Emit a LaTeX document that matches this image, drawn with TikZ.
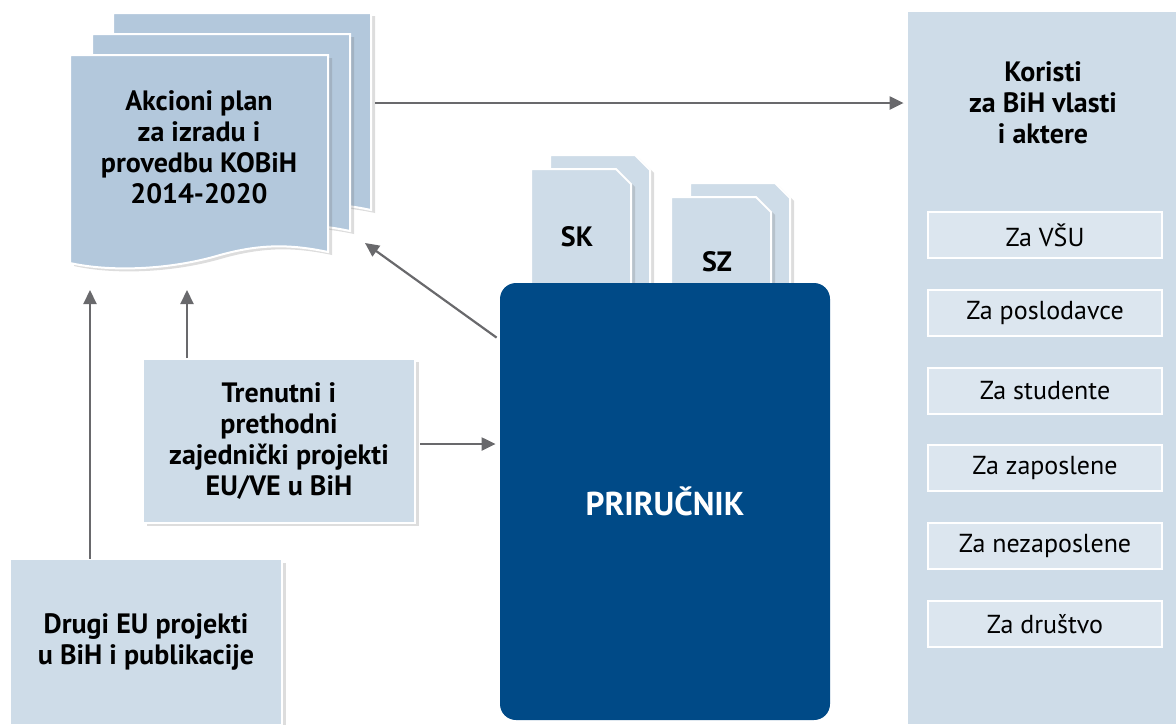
\documentclass[tikz,border=0pt]{standalone}
\usepackage{fontspec}
\setmainfont{PT Sans}
\usetikzlibrary{shapes,arrows.meta,positioning,calc,shadows}
\definecolor{pagefill}{RGB}{179,200,220}
\definecolor{boxfill}{RGB}{206,220,232}
\definecolor{itemfill}{RGB}{220,230,239}
\definecolor{handbook}{RGB}{0,74,135}
\definecolor{arrowgray}{RGB}{105,105,108}

\tikzset{
  flow/.style={draw=arrowgray, line width=1.1pt, -{Triangle[length=7pt,width=6.5pt]}},
  softshadow/.style={drop shadow={shadow xshift=2pt, shadow yshift=-1.5pt, opacity=.22, fill=black!60}},
  sheet/.style={fill=#1, draw=white, line width=1pt, softshadow},
  sheet/.default=pagefill,
  boldtext/.style={font=\fontsize{14}{15.5}\selectfont\bfseries, align=center},
  infobox/.style={rectangle, boldtext, fill=boxfill, draw=white, line width=.8pt,
    minimum width=136pt, minimum height=82pt, softshadow},
  benefit/.style={rectangle, fill=itemfill, draw=white, line width=1pt,
    minimum width=117pt, minimum height=23pt, font=\fontsize{13}{15}\selectfont}
}

\begin{document}
\begin{tikzpicture}[x=0.5pt, y=-0.5pt]
    \useasboundingbox (0,0) rectangle (1176,724);

    % action plan pages
    \foreach \dx/\dy in {113/13, 92/34, 70/55}
      \draw[sheet, shift={(\dx,\dy)}] (0,0) -- (258,0) -- (258,197)
        .. controls (220,189) and (190,189) .. (150,200)
        .. controls (100,215) and (40,217) .. (0,208) -- cycle;
    \node[boldtext] (plan) at (199,147) {Akcioni plan\\za izradu i\\provedbu KOBiH\\2014-2020};

    % SK and SZ sheets
    \foreach \dx/\dy in {550/155, 531/169, 690/183, 671/197}
      \draw[sheet=boxfill, shift={(\dx,\dy)}] (0,140) -- (0,0) -- (85,0) -- (100,15) -- (100,140) -- cycle;
    \node[boldtext] (sk) at (577,237) {SK};
    \node[boldtext] (sz) at (717,262) {SZ};

    \node[rectangle, fill=handbook, rounded corners=8pt, minimum width=165pt, minimum height=218.5pt,
      text=white, font=\fontsize{16.5}{18}\selectfont\bfseries] (prirucnik) at (665,501.5) {PRIRUČNIK};

    \node[infobox] (trenutni) at (279,441) {Trenutni i\\prethodni\\zajednički projekti\\EU/VE u BiH};
    \node[infobox, minimum height=82.5pt] (drugi) at (146,642) {Drugi EU projekti\\u BiH i publikacije};

    % benefits panel
    \node[rectangle, fill=boxfill, inner sep=0pt, minimum width=134pt, minimum height=356pt] (panel) at (1042,368) {};
    \node[boldtext] (koristi) at (1043,103) {Koristi\\za BiH vlasti\\i aktere};
    \foreach \t [count=\i] in {Za VŠU, Za poslodavce, Za studente, Za zaposlene, Za nezaposlene, Za društvo}
      \node[benefit] (item\i) at (1045,{235+(\i-1)*77.8}) {\t};

    % connectors
    \coordinate (stackedge) at (375,103);
    \coordinate (foot1) at (90,290);
    \coordinate (foot2) at (187,290);
    \coordinate (corner) at (365,243);
    \draw[flow, shorten >=2pt] (stackedge) -- (stackedge -| panel.west);
    \draw[flow] (drugi.north -| foot1) -- (foot1);
    \draw[flow] (trenutni.north -| foot2) -- (foot2);
    \draw[flow, shorten <=2pt, shorten >=2pt] ($(trenutni.east)+(0,3)$) -- ($(trenutni.east -| prirucnik.west)+(0,3)$);
    \draw[flow] ($(prirucnik.north west)+(-3,55)$) -- (corner);
\end{tikzpicture}
\end{document}
